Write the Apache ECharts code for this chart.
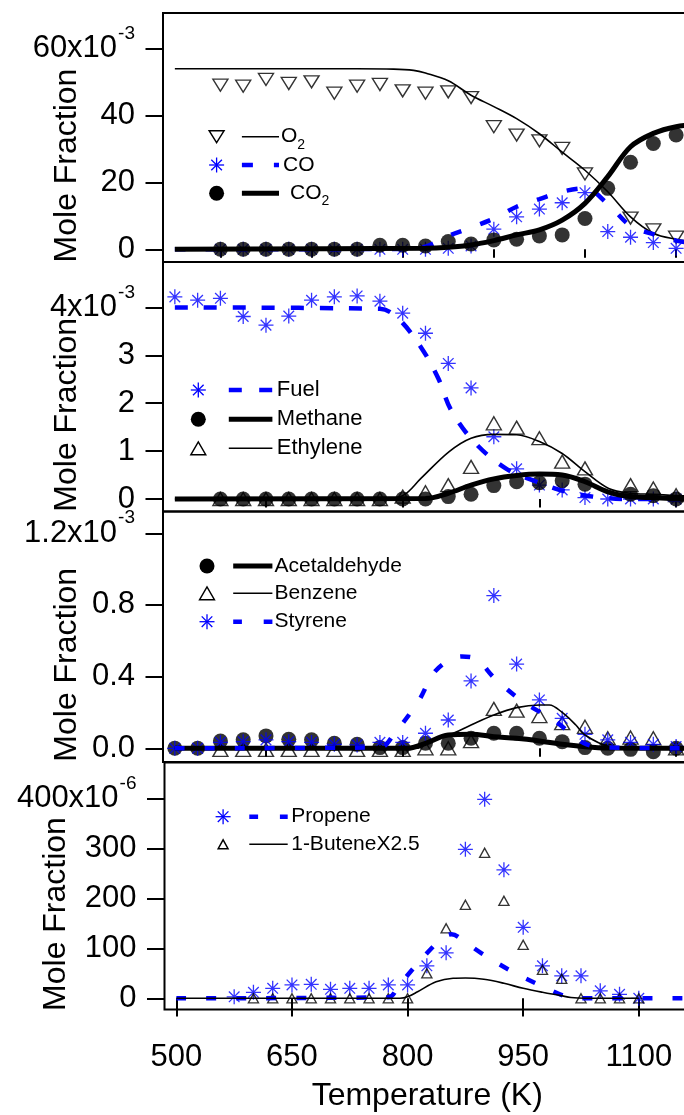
<!DOCTYPE html>
<html><head><meta charset="utf-8">
<script src="https://cdn.jsdelivr.net/npm/echarts@6/dist/echarts.min.js"></script>
<style>html,body{margin:0;padding:0;background:#fff}#c{width:684px;height:1115px}</style>
</head><body><div id="c"></div>
<script>
// ---------------- DATA (temperature in K; mole fractions in axis units) ----------------
// Panel 1 (x10^-3)
const o2T   = [600,625,650,675,700,725,750,775,800,825,850,875,900,925,950,975,1000,1050,1075,1100];
const o2    = [49.0,48.7,50.7,49.5,50.0,46.6,48.7,49.2,47.3,46.6,47.0,45.3,36.6,34.1,32.4,30.1,22.5,9.3,5.8,3.6];
const coT   = [600,625,650,675,700,725,750,775,800,825,850,875,900,925,950,975,1000,1025,1050,1075,1100];
const co    = [0,0,0,0,0,0,0,0,0,0,0.3,1.0,6.0,9.7,12.0,13.9,16.9,5.3,3.6,2.0,0.3];
const co2T  = [600,625,650,675,700,725,750,775,800,825,850,875,900,925,950,975,1000,1025,1050,1075,1100];
const co2   = [0,0,0,0,0,0,0,1.2,1.2,1.0,2.3,1.6,2.8,3.0,4.0,4.3,9.2,18.2,26.0,31.6,34.1];
const o2LineT  = [550,600,650,700,750,790,812,825,850,875,900,925,950,975,1000,1025,1050,1075,1100,1125];
const o2Line   = [53.9,53.9,53.9,53.9,53.9,53.8,53.4,52.6,50.3,46.0,42.6,39.0,34.5,29.0,23.6,17.2,9.7,4.8,3.0,2.0];
const coLineT  = [550,800,825,850,875,900,925,950,975,1000,1025,1050,1075,1100,1125];
const coLine   = [0,0.1,0.8,4.0,6.5,9.2,12.7,15.0,17.2,18.2,13.5,7.0,4.5,2.6,1.6];
const co2LineT = [550,825,850,875,900,925,950,975,1000,1025,1050,1075,1100,1125];
const co2Line  = [0,0.3,0.6,1.3,2.6,4.3,5.8,8.7,13.7,21.7,30.6,34.6,36.6,37.3];

// Panel 2 (x10^-3)
const fuelT = [550,575,600,625,650,675,700,725,750,775,800,825,850,875,900,925,950,975,1000,1025,1050,1075,1100];
const fuel  = [4.22,4.15,4.19,3.81,3.63,3.82,4.15,4.22,4.24,4.13,3.88,3.46,2.83,2.32,1.30,0.63,0.29,0.19,0.03,0,0,0,0];
const methT = [600,625,650,675,700,725,750,775,800,825,850,875,900,925,950,975,1000,1050,1075,1100];
const meth  = [0,0,0,0,0,0,0,0,0,0,0.05,0.10,0.28,0.36,0.34,0.38,0.31,0.10,0.07,0];
const ethT  = [600,625,650,675,700,725,750,775,800,825,850,875,900,925,950,975,1000,1050,1075,1100];
const eth   = [0,0,0,0,0,0,0,0,0.05,0.14,0.29,0.67,1.58,1.49,1.27,0.78,0.64,0.29,0.22,0.08];
const fuelLineT = [550,775,795,820,839,853,878,913,947,982,1018,1050,1125];
const fuelLine  = [4.0,3.97,3.77,3.17,2.52,1.86,1.2,0.64,0.36,0.14,0.03,0,0];
const methLineT = [550,825,850,875,900,925,950,975,1000,1025,1050,1075,1100,1125];
const methLine  = [0,0.01,0.12,0.29,0.42,0.49,0.52,0.50,0.36,0.15,0.05,0.03,0.01,0.01];
const ethLineT  = [550,780,801,820,851,875,900,925,950,975,1000,1026,1050,1075,1100,1125];
const ethLine   = [0,0,0.08,0.43,0.99,1.27,1.35,1.34,1.2,0.95,0.57,0.22,0.12,0.10,0.07,0.06];

// Panel 3 (x10^-3)
const acetT = [550,575,600,625,650,675,700,725,750,775,800,825,850,875,900,925,950,975,1000,1025,1050,1075,1100];
const acet  = [0,0,0.041,0.047,0.069,0.050,0.047,0.028,0.022,0.004,0.004,0.028,0.028,0.056,0.084,0.084,0.056,0.037,0.004,0,-0.006,-0.019,0];
const benzT = [600,625,650,675,700,725,750,775,800,825,850,875,900,925,950,975,1000,1025,1050,1075,1100];
const benz  = [-0.009,-0.009,-0.009,-0.009,-0.009,-0.009,-0.009,-0.009,-0.009,0,0,0.04,0.22,0.21,0.18,0.14,0.12,0.056,0.06,0.056,0];
const styT  = [550,575,600,625,650,675,700,725,750,775,800,825,850,875,900,925,950,975,1000,1025,1050,1075,1100];
const sty   = [0,0,0.033,0.037,0.047,0.037,0.033,0.022,0.019,0.033,0.033,0.084,0.158,0.376,0.852,0.47,0.27,0.167,0.078,0.047,0.033,0.022,0.01];
const acetLineT = [550,805,825,850,875,900,925,950,975,1000,1025,1125];
const acetLine  = [0,0,0.028,0.074,0.078,0.065,0.056,0.041,0.022,0.009,0.002,0];
const benzLineT = [550,815,829,851,875,900,925,950,961,975,990,1000,1026,1050,1125];
const benzLine  = [0,0,0.037,0.074,0.13,0.186,0.227,0.242,0.242,0.2,0.13,0.074,0.01,0,0];
const styLineT  = [550,775,791,817,837,865,880,901,932,968,999,1025,1125];
const styLine   = [0,0.005,0.084,0.26,0.437,0.512,0.5,0.39,0.26,0.149,0.028,0.005,0];

// Panel 4 (x10^-6)
const propT = [575,600,625,650,675,700,725,750,775,800,825,850,875,900,925,950,975,1000,1025,1050,1075,1100];
const prop  = [3,12,20,26.7,28,18,20,20,26.7,26.7,65,91,298,398,257,142,65,45,45,15,8,0];
const butT  = [600,625,650,675,700,725,750,775,800,825,850,875,900,925,950,975,1000,1025,1050,1075,1100];
const but   = [0,0,0,0,0,0,0,0,0,50,140,187,291,195,107,57,39,0,0,0,0];
const propLineT = [500,775,789,823,845,857,875,896,936,976,1012,1040,1160];
const propLine  = [0,2,26.7,86.7,120,128,112,90,53.3,23.3,2,0,0];
const butLineT  = [500,790,800,813,837,859,875,899,925,950,975,999,1012,1030,1100];
const butLine   = [0,0,3,13,33,40,40.5,38,30,20,12,5.3,1.5,0,0];

// tick values
const xTicks1 = [600,700,800,900,1000,1100];
const xTicks23 = [650,800,950,1100];
const xTicks4 = [500,650,800,950,1100];
const yTicks1 = [0,20,40,60], yMinor1 = [10,30,50];
const yTicks2 = [0,1,2,3,4];
const yTicks3 = [0,0.4,0.8,1.2], yMinor3 = [0.2,0.6,1.0];
const yTicks4 = [0,100,200,300,400];

// ---------------- CHART ----------------
const FONT = '"Liberation Sans", Arial, Helvetica, sans-serif';
const BLUE = '#0000ff';
const STAR = 'path://M8 0L8 16M0 8L16 8M2.34 2.34L13.66 13.66M2.34 13.66L13.66 2.34';
const pts = (xs, ys) => xs.map((x, i) => [x, ys[i]]);

const panels = [
  {top:13,   height:249,   left:163,   xmin:537.0, xmax:1130.6, ymin:-3.79,  ymax:70.54, xt:xTicks1,  xtl:8.5,  yt:yTicks1, ym:yMinor1, supV:60,  main:'60x10', sup:'-3', dec:0, showX:false},
  {top:262,  height:249.5, left:163,   xmin:537.0, xmax:1130.6, ymin:-0.261, ymax:4.948, xt:xTicks23, xtl:8.5,  yt:yTicks2, ym:null,    supV:4,   main:'4x10',  sup:'-3', dec:0, showX:false},
  {top:511.5,height:250.5, left:163,   xmin:537.0, xmax:1130.6, ymin:-0.0765,ymax:1.3214,xt:xTicks23, xtl:8.5,  yt:yTicks3, ym:yMinor3, supV:1.2, main:'1.2x10',sup:'-3', dec:1, showX:false},
  {top:762.5,height:247,   left:164.5, xmin:484.6, xmax:1184.6, ymin:-22.4,  ymax:471.6, xt:xTicks4,  xtl:18.3, yt:yTicks4, ym:null,    supV:400, main:'400x10',sup:'-6', dec:0, showX:true}
];

const grid = [], xAxis = [], yAxis = [];
panels.forEach((p, i) => {
  grid.push({left:p.left, top:p.top, height:p.height, right:-20, show:true, borderColor:'#000', borderWidth:2,
             backgroundColor:'rgba(0,0,0,0)', containLabel:false, outerBoundsMode:'none'});
  xAxis.push({
    gridIndex:i, type:'value', min:p.xmin, max:p.xmax,
    axisLine:{show:false}, splitLine:{show:false},
    axisTick:{show:true, inside:false, length:p.xtl, lineStyle:{color:'#000', width:2}, customValues:p.xt},
    axisLabel:{show:p.showX, customValues:p.xt, margin:32, fontSize:31, color:'#000', fontFamily:FONT,
               formatter: v => String(Math.round(v))},
    name: p.showX ? 'Temperature (K)' : '', nameLocation:'middle', nameGap:71, nameMoveOverlap:false,
    nameTextStyle:{fontSize:32, color:'#000', fontFamily:FONT, padding:[0,14,0,0]}
  });
  yAxis.push({
    gridIndex:i, type:'value', min:p.ymin, max:p.ymax,
    axisLine:{show:false}, splitLine:{show:false},
    axisTick:{show:true, inside:false, length:17.5, lineStyle:{color:'#000', width:2}, customValues:p.yt},
    axisLabel:{
      customValues:p.yt, margin:28, fontSize:31, color:'#000', fontFamily:FONT,
      formatter: v => (Math.abs(v - p.supV) < 1e-9) ? '{m|' + p.main + '}{s|' + p.sup + '}' : v.toFixed(p.dec),
      rich:{
        m:{fontSize:31, lineHeight:50, color:'#000', fontFamily:FONT},
        s:{fontSize:19, lineHeight:20, padding:[0,0,30,1], color:'#000', fontFamily:FONT}
      }
    },
    name:'Mole Fraction', nameLocation:'middle', nameGap: i === 3 ? 92 : 80, nameMoveOverlap:false,
    nameTextStyle:{fontSize:32, color:'#000', fontFamily:FONT, padding:[0,56,0,0]}
  });
  yAxis.push({
    gridIndex:i, type:'value', min:p.ymin, max:p.ymax,
    axisLine:{show:false}, splitLine:{show:false}, axisLabel:{show:false},
    axisTick:{show: !!p.ym, inside:false, length:9, lineStyle:{color:'#000', width:2}, customValues:p.ym || []}
  });
});

function marker(kind) {
  if (kind === 'circle') return {symbol:'circle', symbolSize:15, itemStyle:{color:'#000'}};
  if (kind === 'tri') return {symbol:'triangle', symbolSize:[15,13], itemStyle:{color:'rgba(0,0,0,0)', borderColor:'#000', borderWidth:1.4}};
  if (kind === 'triDown') return {symbol:'triangle', symbolRotate:180, symbolSize:[15,12], itemStyle:{color:'rgba(0,0,0,0)', borderColor:'#000', borderWidth:1.4}};
  if (kind === 'smallTri') return {symbol:'triangle', symbolSize:[10,9], itemStyle:{color:'rgba(0,0,0,0)', borderColor:'#000', borderWidth:1.4}};
  return {symbol:STAR, symbolSize:15, itemStyle:{color:BLUE, borderColor:BLUE, borderWidth:1.3}};
}
function sc(i, name, xs, ys, kind) {
  return Object.assign({type:'scatter', name, xAxisIndex:i, yAxisIndex:2*i, data:pts(xs, ys), z:2, silent:true}, marker(kind));
}
function ln(i, name, xs, ys, kind, dash) {
  const ls = kind === 'thick' ? {color:'#000', width:5} : kind === 'thin' ? {color:'#000', width:1.6} : {color:BLUE, width:4.5, type:dash, cap:'butt'};
  return {type:'line', name, xAxisIndex:i, yAxisIndex:2*i, data:pts(xs, ys), showSymbol:false, symbol:'none',
          smooth:0.35, lineStyle:ls, z:3, silent:true, clip:true};
}

const series = [
  sc(0,'O2 exp',o2T,o2,'triDown'), sc(0,'CO exp',coT,co,'star'), sc(0,'CO2 exp',co2T,co2,'circle'),
  ln(0,'O2',o2LineT,o2Line,'thin'), ln(0,'CO',coLineT,coLine,'dash',[11,20]), ln(0,'CO2',co2LineT,co2Line,'thick'),

  sc(1,'Fuel exp',fuelT,fuel,'star'), sc(1,'Methane exp',methT,meth,'circle'), sc(1,'Ethylene exp',ethT,eth,'tri'),
  ln(1,'Fuel',fuelLineT,fuelLine,'dash',[13,16]), ln(1,'Methane',methLineT,methLine,'thick'), ln(1,'Ethylene',ethLineT,ethLine,'thin'),

  sc(2,'Acetaldehyde exp',acetT,acet,'circle'), sc(2,'Benzene exp',benzT,benz,'tri'), sc(2,'Styrene exp',styT,sty,'star'),
  ln(2,'Acetaldehyde',acetLineT,acetLine,'thick'), ln(2,'Benzene',benzLineT,benzLine,'thin'), ln(2,'Styrene',styLineT,styLine,'dash',[10,20]),

  sc(3,'Propene exp',propT,prop,'star'), sc(3,'1-Butene exp',butT,but,'smallTri'),
  ln(3,'Propene',propLineT,propLine,'dash',[10,20]), ln(3,'1-ButeneX2.5',butLineT,butLine,'thin')
];

// ---------------- legends (graphic) ----------------
const G = [];
function gStar(cx, cy) {
  const r = 7.5, d = 5.3;
  [[0,-r,0,r],[-r,0,r,0],[-d,-d,d,d],[-d,d,d,-d]].forEach(a =>
    G.push({type:'line', silent:true, shape:{x1:cx+a[0], y1:cy+a[1], x2:cx+a[2], y2:cy+a[3]}, style:{stroke:BLUE, lineWidth:1.3}}));
}
function gTri(cx, cy, w, h, down) {
  const pts2 = down ? [[cx-w/2, cy-h/2],[cx+w/2, cy-h/2],[cx, cy+h/2]] : [[cx-w/2, cy+h/2],[cx+w/2, cy+h/2],[cx, cy-h/2]];
  G.push({type:'polygon', silent:true, shape:{points:pts2}, style:{fill:'none', stroke:'#000', lineWidth:1.4}});
}
function gDot(cx, cy) { G.push({type:'circle', silent:true, shape:{cx, cy, r:7.5}, style:{fill:'#000'}}); }
function gSeg(x1, x2, y, kind, dash) {
  const st = kind === 'thick' ? {stroke:'#000', lineWidth:5} : kind === 'thin' ? {stroke:'#000', lineWidth:1.6} : {stroke:BLUE, lineWidth:4.5, lineDash:dash, lineCap:'butt'};
  G.push({type:'line', silent:true, shape:{x1, y1:y, x2, y2:y}, style:st});
}
function gText(x, y, txt, fs, withSub) {
  const style = {x, y, text: withSub ? '{a|' + txt + '}{b|2}' : txt, fill:'#000', fontSize:fs, fontFamily:FONT, align:'left', verticalAlign:'middle'};
  if (withSub) style.rich = {a:{fontSize:fs, lineHeight:30, fontFamily:FONT, fill:'#000'}, b:{fontSize:14, lineHeight:14, padding:[16,0,0,0], fontFamily:FONT, fill:'#000'}};
  G.push({type:'text', silent:true, style});
}
// panel 1
gTri(216.6, 136.7, 15, 12, true);  gSeg(241.9, 279, 136.7, 'thin');          gText(281, 136.7, 'O', 21, true);
gStar(216.6, 165);                 gSeg(241.9, 279, 165, 'dash', [11,21]);  gText(283, 165, 'CO', 21, false);
gDot(216.6, 193.3);                gSeg(241.9, 279, 193.3, 'thick');        gText(290, 193.3, 'CO', 21, true);
// panel 2
gStar(198.3, 390);                 gSeg(228.8, 272.4, 390, 'dash', [13,17.4]); gText(276.8, 390, 'Fuel', 22);
gDot(198.3, 419.3);                gSeg(228.8, 272.4, 419.3, 'thick');         gText(276.8, 419.3, 'Methane', 22);
gTri(198.3, 448.3, 15, 13, false); gSeg(228.8, 272.4, 448.3, 'thin');          gText(276.8, 448.3, 'Ethylene', 22);
// panel 3
gDot(207, 566);                    gSeg(233.2, 272.4, 566, 'thick');           gText(274.6, 566, 'Acetaldehyde', 21);
gTri(207, 593.3, 15, 13, false);   gSeg(233.2, 272.4, 593.3, 'thin');          gText(274.6, 593.3, 'Benzene', 21);
gStar(207, 621.7);                 gSeg(233.2, 272.4, 621.7, 'dash', [8.7,21.8]); gText(274.6, 621.7, 'Styrene', 21);
// panel 4
gStar(223.1, 816.7);               gSeg(249.3, 287.7, 816.7, 'dash', [8.8,21.8]); gText(291.2, 816.7, 'Propene', 21);
gTri(223.1, 844.3, 10, 9, false);  gSeg(249.3, 287.7, 844.3, 'thin');          gText(291.2, 844.3, '1-ButeneX2.5', 21);

const chart = echarts.init(document.getElementById('c'), null, {renderer:'canvas'});
chart.setOption({
  animation:false, backgroundColor:'#fff',
  textStyle:{fontFamily:FONT},
  grid, xAxis, yAxis, series,
  graphic: G
});
</script></body></html>
